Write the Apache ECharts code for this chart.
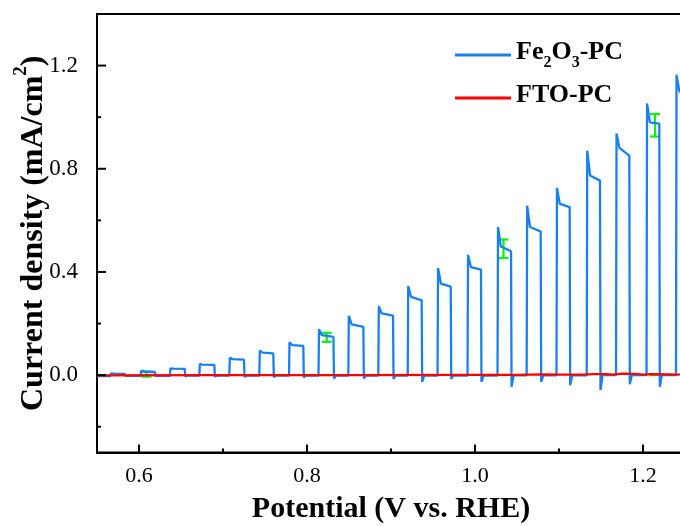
<!DOCTYPE html>
<html><head><meta charset="utf-8">
<script src="https://cdn.jsdelivr.net/npm/echarts@6/dist/echarts.min.js"></script>
<style>html,body{margin:0;padding:0;background:#fff}#c{width:680px;height:526px}</style>
</head><body><div id="c"></div>
<script>
// ---- axis ticks ----
const xTicks = [0.6, 0.8, 1.0, 1.2];
const xMinorTicks = [0.7, 0.9, 1.1];
const yTicks = [0.0, 0.4, 0.8, 1.2];
const yMinorTicks = [-0.2, 0.2, 0.6, 1.0];
const xRange = [0.55, 1.25];
const yRange = [-0.3, 1.4];

// ---- Fe2O3-PC chopped-light LSV ----
const pulseOn  = [0.5661,0.6020,0.6369,0.6718,0.7075,0.7432,0.7786,0.8137,0.8492,0.8849,0.9199,0.9554,0.9911,1.0268,1.0615,1.0970,1.1330,1.1679,1.2042,1.2393];
const pulseOff = [0.5831,0.6190,0.6545,0.6897,0.7250,0.7599,0.7956,0.8315,0.8671,0.9024,0.9365,0.9711,1.0071,1.0429,1.0782,1.1127,1.1488,1.1837,1.2194,1.2560];
const peakJ      = [0.007,0.017,0.026,0.043,0.067,0.095,0.127,0.178,0.230,0.267,0.345,0.415,0.467,0.574,0.657,0.726,0.870,0.937,1.053,1.164];
const afterSpikeJ= [0.006,0.014,0.025,0.041,0.062,0.087,0.116,0.155,0.197,0.239,0.303,0.355,0.419,0.499,0.574,0.664,0.774,0.881,0.980,1.100];
const plateauEndJ= [0.005,0.012,0.024,0.040,0.060,0.084,0.113,0.148,0.187,0.231,0.290,0.343,0.409,0.480,0.557,0.651,0.754,0.851,0.975,1.080];
const offDipJ    = [-0.003,-0.004,-0.005,-0.006,-0.007,-0.008,-0.009,-0.013,-0.013,-0.015,-0.026,-0.015,-0.026,-0.045,-0.026,-0.039,-0.058,-0.035,-0.045,-0.040];
const darkJ      = [-0.004,-0.003,-0.003,-0.002,-0.002,-0.002,-0.002,-0.002,-0.002,-0.002,-0.002,-0.002,-0.002,-0.002,-0.001,-0.001,-0.001,0.000,0.000,0.000,0.000];
const scanStart = 0.55;
const riseDV = 0.0006, decayDV = 0.004, recoverDV = 0.003; // transient durations (V)

// ---- FTO-PC ----
const ftoV = [0.55,0.70,0.85,1.00,1.05,1.08,1.10,1.13,1.14,1.155,1.165,1.175,1.19,1.20,1.21,1.23,1.24,1.25];
const ftoJ = [-0.001,0.000,0.000,0.001,0.001,0.003,0.002,0.002,0.004,0.004,0.002,0.006,0.005,0.002,0.004,0.003,0.002,0.003];

// ---- green error bars ----
const errX    = [0.6089,0.8235,1.0339,1.2143];
const errLow  = [-0.006,0.129,0.454,0.925];
const errHigh = [0.013,0.164,0.526,1.012];
const errBaseStart = [0.6027,0.8175,1.0278,1.2075];
const errBaseEnd   = [0.6146,0.8282,1.0409,1.2202];

const fe2o3Data = [[scanStart, darkJ[0]]];
for (let i = 0; i < pulseOn.length; i++) {
  fe2o3Data.push([pulseOn[i], darkJ[i]]);
  fe2o3Data.push([pulseOn[i] + riseDV, peakJ[i]]);
  fe2o3Data.push([pulseOn[i] + decayDV, afterSpikeJ[i]]);
  fe2o3Data.push([pulseOff[i], plateauEndJ[i]]);
  fe2o3Data.push([pulseOff[i] + riseDV, offDipJ[i]]);
  fe2o3Data.push([pulseOff[i] + recoverDV, darkJ[i + 1]]);
}
const ftoData = ftoV.map((v, i) => [v, ftoJ[i]]);
const errData = errX.map((v, i) => [v, errLow[i], errHigh[i], errBaseStart[i], errBaseEnd[i]]);
// tick marks: [value, kind] kind 0 = x major, 1 = x minor, 2 = y major, 3 = y minor
const tickData = [].concat(
  xTicks.map(v => [v, 0]), xMinorTicks.map(v => [v, 1]),
  yTicks.map(v => [v, 2]), yMinorTicks.map(v => [v, 3])
);

const FONT = 'Liberation Serif';
const chart = echarts.init(document.getElementById('c'), null, {renderer: 'canvas'});
const axisLineStyle = {color: '#000', width: 2};
chart.setOption({
  animation: false,
  backgroundColor: '#fff',
  grid: {left: 97, top: 14, right: -5, bottom: 73.5, show: true, borderColor: '#000', borderWidth: 2,
         backgroundColor: 'transparent', containLabel: false, outerBoundsMode: 'none'},
  legend: {
    data: ['Fe2O3-PC', 'FTO-PC'],
    orient: 'vertical', left: 450, top: 34,
    itemWidth: 56, itemHeight: 3, itemGap: 11, icon: 'rect',
    formatter: function (n) {
      return n === 'Fe2O3-PC' ? '{b|Fe}{s|2}{b|O}{s|3}{b|-PC}' : '{b|FTO-PC}';
    },
    textStyle: {
      fontFamily: FONT, fontSize: 26, fontWeight: 'bold', color: '#000',
      rich: {
        b: {fontFamily: FONT, fontSize: 26, fontWeight: 'bold', color: '#000', lineHeight: 32, verticalAlign: 'top'},
        s: {fontFamily: FONT, fontSize: 16, fontWeight: 'bold', color: '#000', lineHeight: 6, verticalAlign: 'bottom'}
      }
    }
  },
  xAxis: [{
    type: 'value', min: xRange[0], max: xRange[1], position: 'bottom',
    name: 'Potential (V vs. RHE)', nameLocation: 'middle', nameGap: 42, nameMoveOverlap: false,
    nameTextStyle: {fontFamily: FONT, fontSize: 30, fontWeight: 'bold', color: '#000'},
    axisLine: {show: true, onZero: false, lineStyle: axisLineStyle},
    axisTick: {show: false},
    axisLabel: {show: true, margin: 13, fontFamily: FONT, fontSize: 22, color: '#000', customValues: xTicks.slice(), formatter: v => v.toFixed(1)},
    splitLine: {show: false}
  }],
  yAxis: [{
    type: 'value', min: yRange[0], max: yRange[1], position: 'left',
    name: '{a|Current density (mA/cm}{p|2}{a|)}', nameLocation: 'middle', nameGap: 47, nameRotate: 90, nameMoveOverlap: false,
    nameTextStyle: {
      fontFamily: FONT, fontSize: 32, fontWeight: 'bold', color: '#000',
      rich: {
        a: {fontFamily: FONT, fontSize: 32, fontWeight: 'bold', color: '#000', lineHeight: 38, verticalAlign: 'bottom'},
        p: {fontFamily: FONT, fontSize: 19, fontWeight: 'bold', color: '#000', lineHeight: 19, verticalAlign: 'top'}
      }
    },
    axisLine: {show: true, onZero: false, lineStyle: axisLineStyle},
    axisTick: {show: false},
    axisLabel: {show: true, margin: 19, fontFamily: FONT, fontSize: 23, color: '#000', customValues: yTicks.slice(), formatter: v => v.toFixed(1)},
    splitLine: {show: false}
  }],
  series: [{
    name: 'Fe2O3-PC', type: 'line', data: fe2o3Data,
    showSymbol: false, symbol: 'none', clip: true,
    lineStyle: {color: '#1a80f0', width: 2.3}, itemStyle: {color: '#1a80f0'}
  }, {
    name: 'FTO-PC', type: 'line', data: ftoData,
    showSymbol: false, symbol: 'none', clip: true,
    lineStyle: {color: '#ff0000', width: 2.2}, itemStyle: {color: '#ff0000'}
  }, {
    name: 'err', type: 'custom', data: errData,
    renderItem: function (params, api) {
      const x = api.value(0), lo = api.value(1), hi = api.value(2), b0 = api.value(3), b1 = api.value(4);
      const pLo = api.coord([x, lo]), pHi = api.coord([x, hi]);
      const pb0 = api.coord([b0, 0]), pb1 = api.coord([b1, 0]);
      const cap = 5;
      const st = {stroke: '#11ee11', lineWidth: 2.2, fill: null};
      return {type: 'group', children: [
        {type: 'line', shape: {x1: pb0[0], y1: pb0[1], x2: pb1[0], y2: pb1[1]}, style: st},
        {type: 'line', shape: {x1: pLo[0], y1: pLo[1], x2: pHi[0], y2: pHi[1]}, style: st},
        {type: 'line', shape: {x1: pLo[0] - cap, y1: pLo[1], x2: pLo[0] + cap, y2: pLo[1]}, style: st},
        {type: 'line', shape: {x1: pHi[0] - cap, y1: pHi[1], x2: pHi[0] + cap, y2: pHi[1]}, style: st}
      ]};
    }
  }, {
    name: 'axisTicks', type: 'custom', data: tickData, clip: false, silent: true, z: 10,
    renderItem: function (params, api) {
      const v = api.value(0), kind = api.value(1);
      if (kind < 2) {
        const p = api.coord([v, yRange[0]]);
        const len = kind === 0 ? 8 : 4;
        return {type: 'rect', shape: {x: p[0] - 1, y: p[1] - len, width: 2, height: len}, style: {fill: '#000'}};
      }
      const p = api.coord([xRange[0], v]);
      const len = kind === 2 ? 9 : 4;
      return {type: 'rect', shape: {x: p[0], y: p[1] - 1, width: len, height: 2}, style: {fill: '#000'}};
    }
  }]
});
</script></body></html>
